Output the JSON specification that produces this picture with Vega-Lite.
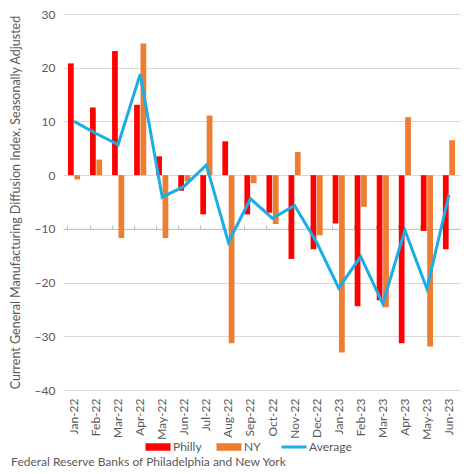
{
  "$schema": "https://vega.github.io/schema/vega-lite/v6.json",
  "width": 397,
  "height": 376,
  "autosize": {"type": "none"},
  "padding": {"left": 63, "top": 14, "right": 14, "bottom": 84},
  "background": "white",
  "config": {
    "view": {"stroke": null},
    "font": "Lato",
    "axis": {"labelFont": "Lato", "titleFont": "Lato", "labelColor": "#595959", "titleColor": "#595959"}
  },
  "data": {
    "values": [
      {"month": "Jan-22", "series": "Philly", "value": 20.8},
      {"month": "Jan-22", "series": "NY", "value": -0.8},
      {"month": "Jan-22", "series": "Average", "value": 10.0},
      {"month": "Feb-22", "series": "Philly", "value": 12.6},
      {"month": "Feb-22", "series": "NY", "value": 2.9},
      {"month": "Feb-22", "series": "Average", "value": 7.75},
      {"month": "Mar-22", "series": "Philly", "value": 23.1},
      {"month": "Mar-22", "series": "NY", "value": -11.7},
      {"month": "Mar-22", "series": "Average", "value": 5.7},
      {"month": "Apr-22", "series": "Philly", "value": 13.1},
      {"month": "Apr-22", "series": "NY", "value": 24.5},
      {"month": "Apr-22", "series": "Average", "value": 18.8},
      {"month": "May-22", "series": "Philly", "value": 3.5},
      {"month": "May-22", "series": "NY", "value": -11.7},
      {"month": "May-22", "series": "Average", "value": -4.1},
      {"month": "Jun-22", "series": "Philly", "value": -2.9},
      {"month": "Jun-22", "series": "NY", "value": -1.2},
      {"month": "Jun-22", "series": "Average", "value": -2.05},
      {"month": "Jul-22", "series": "Philly", "value": -7.3},
      {"month": "Jul-22", "series": "NY", "value": 11.1},
      {"month": "Jul-22", "series": "Average", "value": 1.9},
      {"month": "Aug-22", "series": "Philly", "value": 6.3},
      {"month": "Aug-22", "series": "NY", "value": -31.3},
      {"month": "Aug-22", "series": "Average", "value": -12.5},
      {"month": "Sep-22", "series": "Philly", "value": -7.3},
      {"month": "Sep-22", "series": "NY", "value": -1.5},
      {"month": "Sep-22", "series": "Average", "value": -4.4},
      {"month": "Oct-22", "series": "Philly", "value": -7.0},
      {"month": "Oct-22", "series": "NY", "value": -9.1},
      {"month": "Oct-22", "series": "Average", "value": -8.05},
      {"month": "Nov-22", "series": "Philly", "value": -15.6},
      {"month": "Nov-22", "series": "NY", "value": 4.3},
      {"month": "Nov-22", "series": "Average", "value": -5.65},
      {"month": "Dec-22", "series": "Philly", "value": -13.8},
      {"month": "Dec-22", "series": "NY", "value": -11.2},
      {"month": "Dec-22", "series": "Average", "value": -12.5},
      {"month": "Jan-23", "series": "Philly", "value": -9.0},
      {"month": "Jan-23", "series": "NY", "value": -33.0},
      {"month": "Jan-23", "series": "Average", "value": -21.0},
      {"month": "Feb-23", "series": "Philly", "value": -24.4},
      {"month": "Feb-23", "series": "NY", "value": -5.9},
      {"month": "Feb-23", "series": "Average", "value": -15.15},
      {"month": "Mar-23", "series": "Philly", "value": -23.3},
      {"month": "Mar-23", "series": "NY", "value": -24.6},
      {"month": "Mar-23", "series": "Average", "value": -23.95},
      {"month": "Apr-23", "series": "Philly", "value": -31.3},
      {"month": "Apr-23", "series": "NY", "value": 10.8},
      {"month": "Apr-23", "series": "Average", "value": -10.25},
      {"month": "May-23", "series": "Philly", "value": -10.4},
      {"month": "May-23", "series": "NY", "value": -31.9},
      {"month": "May-23", "series": "Average", "value": -21.15},
      {"month": "Jun-23", "series": "Philly", "value": -13.8},
      {"month": "Jun-23", "series": "NY", "value": 6.5},
      {"month": "Jun-23", "series": "Average", "value": -3.65}
    ]
  },
  "title": {
    "text": "Federal Reserve Banks of Philadelphia and New York",
    "orient": "bottom",
    "anchor": "start",
    "frame": "bounds",
    "font": "Lato",
    "fontSize": 12,
    "fontWeight": "normal",
    "color": "#595959",
    "offset": 4,
    "dx": 2
  },
  "resolve": {"axis": {"x": "independent"}},
  "layer": [
    {
      "transform": [{"filter": "datum.series !== 'Average'"}],
      "mark": {"type": "bar"},
      "encoding": {
        "x": {
          "field": "month", "type": "nominal", "sort": null,
          "scale": {"paddingInner": 0.45, "paddingOuter": 0.225},
          "axis": {"title": null, "labelAngle": -90, "labelFontSize": 12, "labelPadding": 8, "ticks": false, "domain": false, "grid": false, "labelBaseline": "middle"}
        },
        "xOffset": {"field": "series", "type": "nominal", "scale": {"domain": ["Philly", "NY"], "paddingInner": 0.1}},
        "y": {
          "field": "value", "type": "quantitative",
          "scale": {"domain": [-40, 30], "nice": false},
          "axis": {
            "title": "Current General Manufacturing Diffusion Index, Seasonally Adjusted",
            "titleFontSize": 12.5, "titleFontWeight": "normal", "titlePadding": 12,
            "values": [-40, -30, -20, -10, 0, 10, 20, 30],
            "labelFontSize": 12, "labelPadding": 8,
            "domain": false, "ticks": false,
            "gridColor": "#D9D9D9", "gridWidth": 1
          }
        },
        "color": {
          "field": "series", "type": "nominal",
          "scale": {"domain": ["Philly", "NY", "Average"], "range": ["#FF0000", "#ED7D31", "#1DADE6"]},
          "legend": {
            "title": null, "orient": "none", "direction": "horizontal",
            "legendX": 89, "legendY": 427,
            "symbolSize": 625, "labelFontSize": 12, "labelColor": "#595959", "labelFont": "Lato",
            "labelOffset": 9, "columnPadding": 14,
            "encode": {
              "symbols": {
                "update": {
                  "shape": {"signal": "datum.value === 'Average' ? 'M-1,0H1' : 'M-1,-0.3H1V0.3H-1Z'"},
                  "fill": {"signal": "datum.value === 'Average' ? 'transparent' : scale('color', datum.value)"},
                  "stroke": {"signal": "scale('color', datum.value)"},
                  "strokeWidth": {"signal": "datum.value === 'Average' ? 3 : 0"},
                  "opacity": {"value": 1}
                }
              }
            }
          }
        }
      }
    },
    {
      "transform": [{"filter": "datum.series === 'Average'"}],
      "mark": {"type": "line", "strokeWidth": 3},
      "encoding": {
        "x": {
          "field": "month", "type": "nominal", "sort": null,
          "axis": {"title": null, "labels": false, "grid": false, "domain": true, "domainColor": "#BFBFBF", "ticks": true, "tickColor": "#BFBFBF", "tickSize": 4, "bandPosition": 0, "offset": -214.86}
        },
        "y": {"field": "value", "type": "quantitative"},
        "color": {"field": "series", "type": "nominal"}
      }
    }
  ]
}
